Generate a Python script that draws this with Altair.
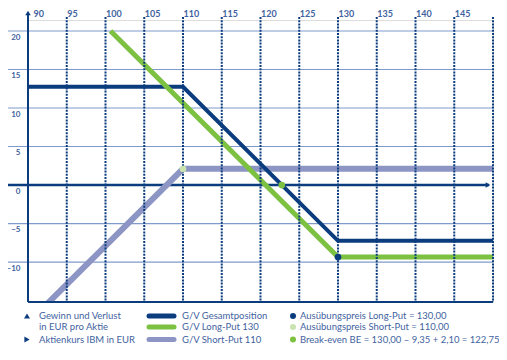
import altair as alt
import pandas as pd

# ---- data ----
price_gesamt = [90, 110, 130, 150]
pl_gesamt = [12.75, 12.75, -7.25, -7.25]
price_long = [100.65, 130, 150]
pl_long = [20, -9.35, -9.35]
price_short = [90, 110, 150]
pl_short = [-17.9, 2.1, 2.1]

point_price = [130, 110, 122.75]
point_pl = [-9.35, 2.1, 0]
point_kind = ["long", "short", "be"]

x_ticks = [90, 95, 100, 105, 110, 115, 120, 125, 130, 135, 140, 145]
grid_x = [95, 100, 105, 110, 115, 120, 125, 130, 135, 140, 145, 150]
y_ticks = [-10, -5, 0, 5, 10, 15, 20]
grid_y = [-10, -5, 5, 10, 15, 20]

legend_col1 = ["Gewinn und Verlust", "in EUR pro Aktie", "Aktienkurs IBM in EUR"]
legend_col2 = ["G/V Gesamtposition", "G/V Long-Put 130", "G/V Short-Put 110"]
legend_col3 = ["Ausübungspreis Long-Put = 130,00",
               "Ausübungspreis Short-Put = 110,00",
               "Break-even BE = 130,00 – 9,35 + 2,10 = 122,75"]

NAVY = "#0b3d7e"
GREEN = "#7cc142"
LAVENDER = "#8c95c3"
PALEGREEN = "#c9e3b1"
GRID = "#7f9bcb"
TEXT = "#3f63a0"
FONT = "Lato"

W, H = 465, 282
xs = alt.Scale(domain=[90, 150], nice=False, zero=False)
ys = alt.Scale(domain=[-15.19, 21.43], nice=False, zero=False)

xaxis = alt.Axis(orient="top", values=x_ticks, title=None, ticks=False, domain=False,
                 grid=False, labelAlign="left", labelPadding=2, labelFontSize=9,
                 labelOffset={"condition": {"test": "datum.value == 90", "value": 5}, "value": 0},
                 labelFontWeight="bold", labelColor=TEXT, labelFont=FONT, labelFlush=False)
yaxis = alt.Axis(orient="left", values=y_ticks, title=None, ticks=False, domain=False,
                 grid=False, labelAlign="right", labelBaseline="top", labelOffset=2,
                 labelPadding=8, labelFontSize=8, labelFontWeight="bold",
                 labelColor=TEXT, labelFont=FONT, labelFlush=False)


def X(f):
    return alt.X(f, type="quantitative", scale=xs, axis=xaxis)


def Y(f):
    return alt.Y(f, type="quantitative", scale=ys, axis=yaxis)


df_g = pd.DataFrame({"x": price_gesamt, "y": pl_gesamt})
df_l = pd.DataFrame({"x": price_long, "y": pl_long})
df_s = pd.DataFrame({"x": price_short, "y": pl_short})
df_p = pd.DataFrame({"x": point_price, "y": point_pl, "k": point_kind})
df_gy = pd.DataFrame({"y": grid_y})
df_gx = pd.DataFrame({"x": grid_x})
df_zero = pd.DataFrame({"y": [0]})
df_ax = pd.DataFrame({"x": [90]})
one = pd.DataFrame({"a": [0]})

hgrid = alt.Chart(df_gy).mark_rule(color=GRID, strokeWidth=1.2).encode(
    y=Y("y"), x=alt.value(-21), x2=alt.value(W))
zero = alt.Chart(df_zero).mark_rule(color=NAVY, strokeWidth=2.5).encode(
    y=Y("y"), x=alt.value(-21), x2=alt.value(W - 4))
zero_arrow = alt.Chart(df_zero).mark_point(shape="triangle-right", filled=True, color=NAVY,
                                            size=30, opacity=1).encode(
    y=Y("y"), x=alt.value(W - 5))

short_line = alt.Chart(df_s).mark_line(color=LAVENDER, strokeWidth=6, clip=True).encode(x=X("x"), y=Y("y"))
ges_line = alt.Chart(df_g).mark_line(color=NAVY, strokeWidth=4, clip=True).encode(x=X("x"), y=Y("y"))
long_line = alt.Chart(df_l).mark_line(color=GREEN, strokeWidth=5, clip=True).encode(x=X("x"), y=Y("y"))

vgrid = alt.Chart(df_gx).mark_rule(color=NAVY, strokeWidth=2, strokeDash=[2, 1.2]).encode(
    x=X("x"), y=alt.value(-3), y2=alt.value(H))
yaxis_line = alt.Chart(df_ax).mark_rule(color=NAVY, strokeWidth=2).encode(
    x=X("x"), y=alt.value(-6), y2=alt.value(H))
yaxis_arrow = alt.Chart(df_ax).mark_point(shape="triangle-up", filled=True, color=NAVY,
                                          size=30, opacity=1).encode(
    x=X("x"), y=alt.value(-7))
bottom = alt.Chart(one).mark_rule(color=NAVY, strokeWidth=2).encode(
    y=alt.value(H), x=alt.value(0), x2=alt.value(W))

points = alt.Chart(df_p).mark_circle(size=45, opacity=1).encode(
    x=X("x"), y=Y("y"),
    color=alt.Color("k:N", scale=alt.Scale(domain=point_kind, range=[NAVY, PALEGREEN, GREEN]),
                    legend=None))

layers = [hgrid, zero, short_line, ges_line, long_line, vgrid, yaxis_line, yaxis_arrow,
          zero_arrow, bottom, points]

rows = [296, 307, 319.5]


def txt(s, x, y):
    return alt.Chart(one).mark_text(text=s, align="left", baseline="middle", font=FONT,
                                    fontSize=9.5, color=TEXT).encode(
        x=alt.value(x), y=alt.value(y))


# column 1
layers.append(alt.Chart(one).mark_point(shape="triangle-up", filled=True, color=NAVY, size=36,
                                        opacity=1).encode(x=alt.value(-1), y=alt.value(rows[0])))
layers.append(alt.Chart(one).mark_point(shape="triangle-right", filled=True, color=NAVY, size=36,
                                        opacity=1).encode(x=alt.value(-1), y=alt.value(rows[2])))
for i, s in enumerate(legend_col1):
    layers.append(txt(s, 11, rows[i]))

# column 2
for i, (s, c) in enumerate(zip(legend_col2, [NAVY, GREEN, LAVENDER])):
    layers.append(alt.Chart(one).mark_rule(color=c, strokeWidth=5, strokeCap="round").encode(
        x=alt.value(121), x2=alt.value(146), y=alt.value(rows[i])))
    layers.append(txt(s, 154, rows[i]))

# column 3
for i, (s, c) in enumerate(zip(legend_col3, [NAVY, PALEGREEN, GREEN])):
    layers.append(alt.Chart(one).mark_circle(color=c, size=36, opacity=1).encode(
        x=alt.value(265), y=alt.value(rows[i])))
    layers.append(txt(s, 272, rows[i]))

chart = alt.layer(*layers).properties(
    width=W, height=H, autosize=alt.AutoSizeParams(type="none"),
    padding={"left": 20, "top": 12, "right": 6, "bottom": 50},
).configure_view(stroke=None).configure(background="white")

chart.save("out.html", embed_options={"renderer": "svg", "actions": False})
